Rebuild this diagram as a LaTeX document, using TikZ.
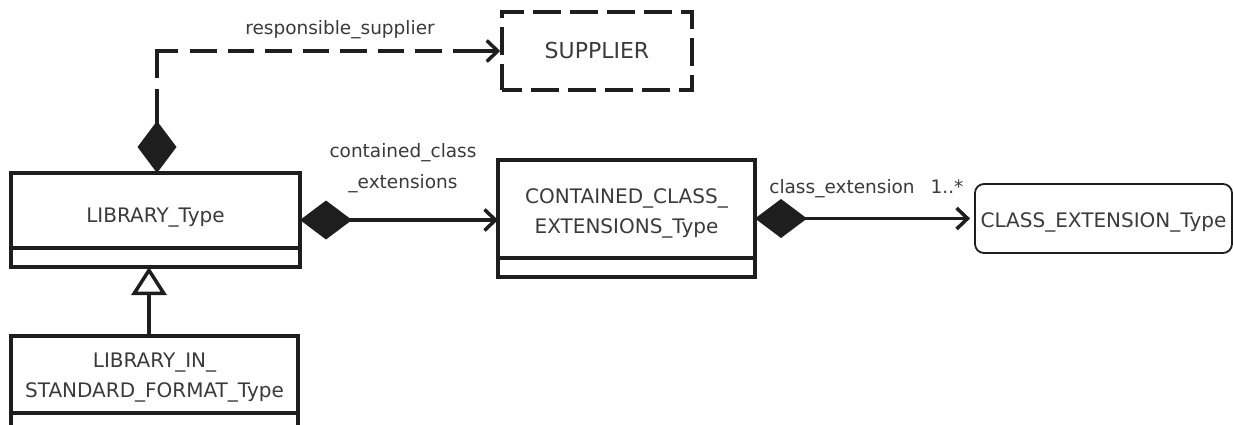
\documentclass[tikz,border=0pt]{standalone}
\usepackage{fontspec}
\setmainfont{DejaVu Sans}
\usetikzlibrary{arrows.meta,calc}
\definecolor{ink}{HTML}{1E1E1E}
\definecolor{txt}{HTML}{3A3A3A}
\begin{document}
\begin{tikzpicture}[x=1pt,y=-1pt,
  line/.style={draw=ink, line width=3.5pt},
  classbox/.style={line, inner sep=0pt, outer sep=0pt},
  nametext/.style={text=txt, inner sep=0pt, align=center,
    font=\fontsize{20}{30}\selectfont},
  lbl/.style={text=txt, inner sep=0pt, align=center,
    font=\fontsize{18.5}{31}\selectfont},
  owns/.style={{Diamond[length=52pt,width=39pt]}-{Straight Barb[length=11pt,width=21pt]}},
  ownsdash/.style={dash pattern=on 35pt off 11pt on 48pt off 12pt
    on 26.5pt off 11pt on 26.5pt off 11pt on 26.5pt off 11pt on 26.5pt off 11pt
    on 26.5pt off 11pt on 26.5pt off 11pt on 26.5pt off 11pt on 80pt off 10pt},
  isa/.style={-{Triangle[open,length=28pt,width=35pt]}}
]
\useasboundingbox (0,0) rectangle (1233,425);

% LIBRARY_Type
\node[classbox, minimum width=289pt, minimum height=94pt] (lib) at (155.5,220) {};
\draw[line] ([yshift=19pt]lib.south west) -- ([yshift=19pt]lib.south east);
\node[nametext, anchor=base] (libname) at ($(lib.north)+(0,49)$) {LIBRARY\_Type};

% LIBRARY_IN_STANDARD_FORMAT_Type
\node[classbox, minimum width=287pt, minimum height=96pt] (std) at (154.5,384) {};
\draw[line] ([yshift=19pt]std.south west) -- ([yshift=19pt]std.south east);
\node[nametext, anchor=base] (stdname) at ($(std.north)+(0,61)$) {LIBRARY\_IN\_\\STANDARD\_FORMAT\_Type};

% CONTAINED_CLASS_EXTENSIONS_Type
\node[classbox, minimum width=257pt, minimum height=117pt] (ccx) at (626.5,218.5) {};
\draw[line] ([yshift=19pt]ccx.south west) -- ([yshift=19pt]ccx.south east);
\node[nametext, anchor=base] (ccxname) at ($(ccx.north)+(0,73)$) {CONTAINED\_CLASS\_\\EXTENSIONS\_Type};

% CLASS_EXTENSION_Type
\node[draw=ink, line width=1.8pt, rounded corners=9pt, minimum width=257pt,
  minimum height=69pt, inner sep=0pt] (cext) at (1103.5,218.5) {};
\node[nametext, anchor=base] (cextname) at ($(cext.north)+(0,44)$) {CLASS\_EXTENSION\_Type};

% SUPPLIER
\node[draw=ink, line width=3.5pt, dash pattern=on 28pt off 9pt, dash phase=8pt,
  minimum width=190pt, minimum height=78pt, inner sep=0pt] (sup) at (597,51) {};
\node[nametext, anchor=base, font=\fontsize{22}{30}\selectfont] (supname) at ($(sup.north)+(0,48)$) {SUPPLIER};

% associations
\draw[line, owns, ownsdash] ([xshift=1.5pt]lib.north) |- (sup.west);
\draw[line, owns] (lib.east) -- (lib.east -| ccx.west);
\draw[line, owns, shorten >=4pt] (ccx.east) -- (ccx.east -| cext.west);

% generalisation
\draw[line, isa] ([xshift=-5.5pt]std.north) -- ([xshift=-5.5pt]std.north |- lib.south);

% role names and multiplicity
\node[lbl, anchor=base] (rs) at (340,35) {responsible\_supplier};
\node[lbl, anchor=base] (cce) at (403,188) {contained\_class\\\_extensions};
\node[lbl, anchor=base] (ce) at (842,193) {class\_extension};
\node[lbl, anchor=base] (mult) at (947,193) {1..*};
\end{tikzpicture}
\end{document}
